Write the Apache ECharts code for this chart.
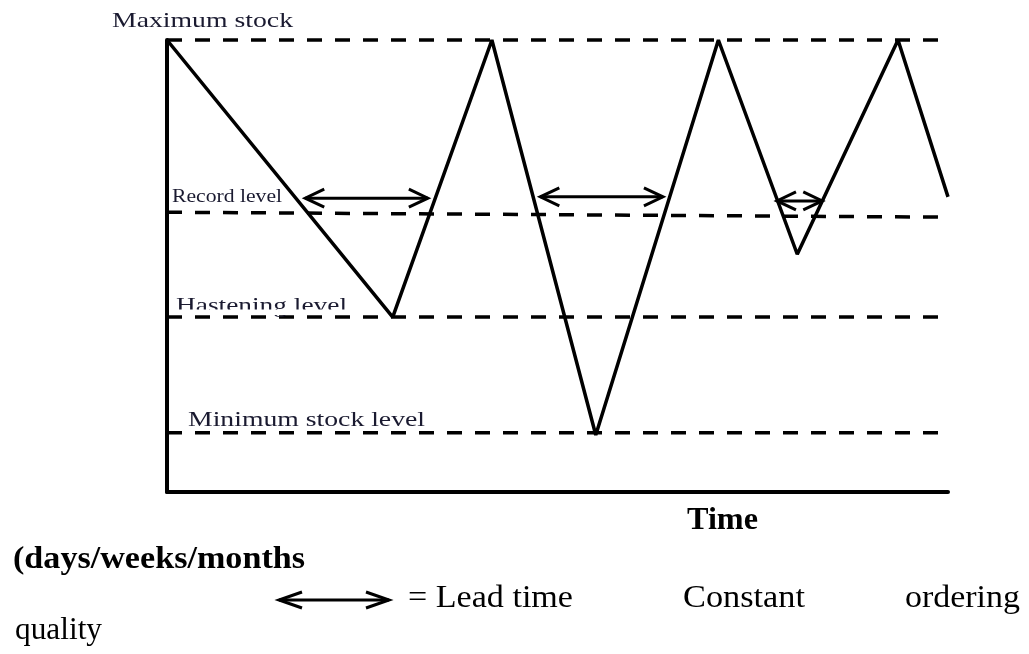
<!DOCTYPE html>
<html>
<head>
<meta charset="utf-8">
<script src="https://cdn.jsdelivr.net/npm/echarts@6/dist/echarts.min.js"></script>
<style>
html,body{margin:0;padding:0;background:#fff;}
#c{width:1029px;height:654px;}
</style>
</head>
<body>
<div id="c"></div>
<script>
// ---- data ----
const timePoints  = [0, 28.9, 41.6, 54.9, 70.6, 80.7, 93.6, 100];
const stockLevels = [100, 38.7, 100, 12.6, 100, 52.6, 100, 65.3];

const levelNames = ['Maximum stock', 'Record level', 'Hastening level', 'Minimum stock level'];
const levelStart = [100, 61.9, 38.7, 13.1];
const levelEnd   = [100, 60.8, 38.7, 13.1];

const leadStart = [17.7, 47.8, 78.1];
const leadEnd   = [33.4, 63.5, 83.9];
const leadLevel = [65.0, 65.3, 64.4];

const timeRange = [0, 100];
const stockRange = [0, 100];

// ---- helpers ----
const FAM = '"Liberation Serif", "Times New Roman", serif';
const mctx = document.createElement('canvas').getContext('2d');
function fit(text, font, target) {
  mctx.font = font;
  return target / mctx.measureText(text).width;
}
function txt(text, size, weight, left, baseline, target, color) {
  const font = (weight ? weight + ' ' : '') + size + 'px ' + FAM;
  return {
    type: 'text', z: 10,
    x: left, y: baseline - 0.30 * size,
    scaleX: target ? fit(text, font, target) : 1,
    style: { text: text, font: font, fill: color || '#000', textAlign: 'left', textVerticalAlign: 'middle' }
  };
}

// level label layout (pixel style): left, baseline, font size, width
const levelLabelStyle = [
  { left: 112, base: 28, size: 22, w: 181 },
  { left: 172, base: 203, size: 18, w: 110 },
  { left: 176, base: 313, size: 22, w: 171 },
  { left: 188, base: 427, size: 21, w: 237 }
];

const chart = echarts.init(document.getElementById('c'), null, { renderer: 'canvas' });

const levelSeries = levelNames.map((name, i) => ({
  type: 'line',
  name: name,
  data: [[timeRange[0], levelStart[i]], [timeRange[1], levelEnd[i]]],
  symbol: 'none',
  clip: false,
  silent: true,
  z: 3,
  lineStyle: { color: '#000', width: 3.5, type: [15, 13] }
}));

const leadData = leadStart.map((s, i) => [s, leadEnd[i], leadLevel[i]]);

const labelGraphics = levelNames.map((n, i) => {
  const s = levelLabelStyle[i];
  return txt(n, s.size, '', s.left, s.base, s.w, '#1a1a30');
});

const option = {
  animation: false,
  backgroundColor: '#fff',
  grid: { left: 167, right: 81, top: 40, bottom: 162 },
  xAxis: {
    type: 'value', min: timeRange[0], max: timeRange[1],
    axisLine: { show: true, lineStyle: { color: '#000', width: 4 } },
    axisTick: { show: false }, axisLabel: { show: false }, splitLine: { show: false }
  },
  yAxis: {
    type: 'value', min: stockRange[0], max: stockRange[1],
    axisLine: { show: true, lineStyle: { color: '#000', width: 4 } },
    axisTick: { show: false }, axisLabel: { show: false }, splitLine: { show: false }
  },
  series: [
    ...levelSeries,
    {
      type: 'line',
      name: 'Stock',
      data: timePoints.map((t, i) => [t, stockLevels[i]]),
      symbol: 'none',
      clip: false,
      z: 5,
      lineStyle: { color: '#000', width: 3.5 }
    },
    {
      type: 'custom',
      name: 'Lead time',
      data: leadData,
      z: 6,
      renderItem: function (params, api) {
        const a = api.coord([api.value(0), api.value(2)]);
        const b = api.coord([api.value(1), api.value(2)]);
        const L = 19, H = 9;
        const st = { stroke: '#000', lineWidth: 3, fill: 'none' };
        return {
          type: 'group',
          children: [
            { type: 'line', shape: { x1: a[0], y1: a[1], x2: b[0], y2: b[1] }, style: st },
            { type: 'polyline', shape: { points: [[a[0] + L, a[1] - H], [a[0], a[1]], [a[0] + L, a[1] + H]] }, style: st },
            { type: 'polyline', shape: { points: [[b[0] - L, b[1] - H], [b[0], b[1]], [b[0] - L, b[1] + H]] }, style: st }
          ]
        };
      }
    }
  ],
  graphic: [
    ...labelGraphics,
    // clip band over the lower part of "Hastening level"
    { type: 'rect', z: 11, shape: { x: 172, y: 309.5, width: 180, height: 5.5 }, style: { fill: '#fff' } },
    txt('Time', 32, 'bold', 687, 530, 71),
    txt('(days/weeks/months', 32, 'bold', 13, 569, 292),
    { type: 'line', z: 10, shape: { x1: 279, y1: 600, x2: 389, y2: 600 }, style: { stroke: '#000', lineWidth: 3 } },
    { type: 'polyline', z: 10, shape: { points: [[302, 592], [279, 600], [302, 608]] }, style: { stroke: '#000', lineWidth: 3, fill: 'none' } },
    { type: 'polyline', z: 10, shape: { points: [[366, 592], [389, 600], [366, 608]] }, style: { stroke: '#000', lineWidth: 3, fill: 'none' } },
    txt('= Lead time', 32, '', 408, 608, 165),
    txt('Constant', 32, '', 683, 608, 122),
    txt('ordering', 32, '', 905, 608, 115),
    txt('quality', 32, '', 15, 640, 87)
  ]
};
chart.setOption(option);
</script>
</body>
</html>
